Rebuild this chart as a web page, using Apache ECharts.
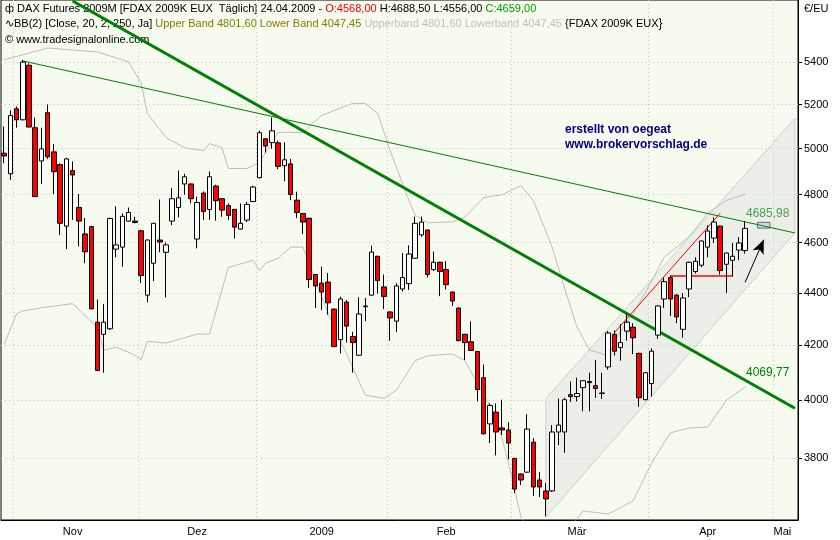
<!DOCTYPE html>
<html><head><meta charset="utf-8">
<script src="https://cdn.jsdelivr.net/npm/echarts@6/dist/echarts.min.js"></script>
<style>html,body{margin:0;padding:0;background:#fff}#c{width:840px;height:540px}</style>
</head><body><div id="c"></div>
<script>
// trading-day slots (Oct 30 2008 .. early May 2009)
var categories = [];
for (var i = 1; i <= 128; i++) categories.push(String(i));
// [open, close, low, high]
var candles = [
[4980,4968,4936,5100],[4890,5149,4864,5173],[5180,5130,5094,5191],[5130,5399,5127,5410],[5384,5097,5097,5394],
[5094,4792,4792,5140],[4946,4999,4846,5094],[5162,4964,4954,5200],[4986,4899,4803,5021],[4930,4680,4631,4936],
[4668,4955,4574,4960],[4904,4885,4694,4944],[4746,4689,4585,4803],[4636,4563,4517,4702],[4666,4338,4336,4670],
[4287,4107,4105,4374],[4241,4287,4099,4356],[4262,4700,4258,4704],[4574,4591,4541,4751],[4582,4709,4503,4721],
[4689,4725,4687,4746],[4689,4683,4680,4707],[4649,4468,4438,4653],[4391,4611,4363,4613],[4517,4680,4446,4682],
[4611,4603,4561,4780],[4561,4591,4382,4601],[4689,4783,4672,4829],[4746,4787,4705,4904],[4846,4877,4800,4890],
[4846,4783,4763,4848],[4615,4767,4577,4792],[4807,4729,4694,4814],[4738,4877,4694,4900],[4837,4775,4691,4843],
[4783,4735,4707,4785],[4754,4713,4694,4763],[4738,4664,4617,4740],[4656,4680,4654,4763],[4693,4759,4685,4769],
[4771,4833,4769,4838],[4873,5071,4870,5081],[5044,5012,4983,5046],[5027,5080,5000,5140],[5026,4922,4910,5036],
[4925,4951,4858,5029],[4933,4801,4777,4955],[4777,4725,4701,4813],[4721,4685,4636,4723],[4701,4452,4419,4703],
[4472,4427,4341,4474],[4438,4403,4333,4503],[4442,4361,4315,4478],[4337,4195,4193,4339],[4221,4376,4170,4385],
[4364,4272,4210,4372],[4233,4210,4099,4251],[4163,4318,4160,4383],[4346,4349,4291,4380],[4391,4562,4389,4588],
[4545,4448,4397,4547],[4423,4386,4337,4472],[4326,4303,4217,4328],[4291,4427,4249,4438],[4415,4460,4405,4558],
[4436,4554,4411,4589],[4537,4680,4535,4708],[4632,4685,4624,4708],[4652,4472,4460,4654],[4492,4521,4486,4564],
[4521,4484,4387,4523],[4492,4432,4413,4525],[4403,4368,4349,4405],[4341,4217,4215,4343],[4241,4210,4145,4243],
[4213,4181,4179,4290],[4177,4038,3996,4179],[4081,3883,3880,4129],[3917,3982,3851,3989],[3958,3889,3809,3989],
[3903,3896,3879,4002],[3896,3851,3796,3923],[3799,3697,3684,3801],[3747,3727,3710,3749],[3753,3899,3750,3951],
[3854,3704,3675,3868],[3727,3704,3671,3753],[3691,3665,3609,3717],[3691,3889,3688,3913],[3889,3913,3844,4006],
[3889,4002,3818,4009],[4020,4013,3994,4067],[4013,4024,3996,4081],[4045,4070,3961,4072],[4067,4063,3961,4099],
[4052,4042,4009,4145],[4024,4026,4005,4099],[4120,4246,4110,4253],[4241,4178,4162,4256],[4192,4210,4143,4280],
[4253,4287,4217,4318],[4268,4228,4167,4283],[4170,4009,3977,4172],[4002,4099,4000,4101],[4060,4178,4013,4188],
[4238,4349,4224,4351],[4376,4444,4341,4460],[4460,4376,4310,4468],[4391,4307,4283,4395],[4260,4380,4228,4399],
[4415,4521,4383,4523],[4484,4525,4476,4541],[4509,4607,4501,4609],[4582,4648,4541,4672],[4619,4685,4599,4705],
[4668,4488,4472,4670],[4513,4558,4399,4560],[4529,4545,4464,4599],[4570,4599,4529,4623],[4568,4659,4556,4688.5]
];
// Bollinger bands read at sample slots (0-based slot, value)
var upperBand = [[0,5410],[7,5467],[15,5448],[20,5400],[22,5300],[23,5159],[26,5050],[29,5004],[32,4991],[33,5023],[35,5004],[36,4913],[39,4913],[41,4939],[44,5073],[48,5073],[51,5150],[56,5205],[58,5205],[60,5159],[62,4991],[65,4776],[66,4714],[68,4682],[72,4686],[74,4706],[77,4788],[80,4800],[83,4839],[85,4776],[88,4584],[90,4419],[92,4269],[94,4183],[97,4161],[99,4253],[101,4318],[104,4446],[106,4541],[110,4624],[113,4722],[116,4776],[119,4802]];
var lowerBand = [[0,4204],[2,4319],[3,4330],[6,4342],[11,4358],[15,4266],[16,4182],[18,4193],[21,4164],[22,4146],[23,4215],[26,4208],[31,4242],[33,4242],[36,4500],[40,4529],[41,4488],[42,4517],[44,4537],[46,4582],[48,4582],[50,4448],[52,4323],[55,4168],[58,4018],[61,4007],[63,4036],[64,4071],[66,4143],[68,4161],[72,4168],[74,4143],[76,4061],[79,3944],[81,3784],[83,3607],[86,3520],[89,3530],[93,3626],[97,3616],[101,3658],[104,3784],[107,3886],[110,3903],[113,3906],[116,4000],[119,4047]];
var yTicks = [3800,4000,4200,4400,4600,4800,5000,5200,5400];
var monthStartIdx = [2,22,41,62,82,104,124];
var monthLabelIdx = [11,31,51,71,92,113,125];
var monthLabelText = ['Nov','Dez','2009','Feb','Mär','Apr','Mai'];
var thickTrend = [[11,5700],[127,3972]];
var thinTrend = [[3,5405],[127,4640]];
var channel = [[87,4006],[127,5136],[127,4641],[87,3606]];
var redDiag = [[98,4247],[115,4722]];
var redFlat = [[107,4469],[117,4469]];
var arrowPts = [[119,4441],[122,4612]];
var boxPts = [[121,4684],[123,4660]];
var trendLabels = ['4685,98','4069,77'];

var ch = echarts.init(document.getElementById('c'));
var F = 'Liberation Sans, Arial, sans-serif';
ch.setOption({
  animation:false,
  backgroundColor:'#ffffff',
  grid:{left:1,right:42,top:0,bottom:20,show:true,backgroundColor:'#f7faef',borderColor:'#000',borderWidth:1},
  xAxis:{type:'category',data:categories,boundaryGap:true,
    axisLine:{lineStyle:{color:'#000'}},
    axisTick:{customValues:monthStartIdx,length:4,lineStyle:{color:'#000'}},
    axisLabel:{customValues:monthLabelIdx,fontFamily:F,fontSize:11,color:'#000',margin:6,
      formatter:function(v,i){var k=monthLabelIdx.indexOf(Number(i));if(k<0)k=monthLabelIdx.indexOf(Number(v)-1);return k>=0?monthLabelText[k]:'';}},
    splitLine:{show:true,lineStyle:{color:'#c4c4c4',type:[1,3]}}
  },
  yAxis:{type:'log',position:'right',min:3597,max:5705,logBase:10,
    axisLine:{show:true,lineStyle:{color:'#000'}},
    axisTick:{show:true,customValues:yTicks,length:4,lineStyle:{color:'#000'}},
    axisLabel:{customValues:yTicks,fontFamily:F,fontSize:11,color:'#000',margin:6,
      formatter:function(v){return String(Math.round(v));}},
    splitLine:{show:true,lineStyle:{color:'#c4c4c4',type:[1,3]}},
    minorTick:{show:false}
  },
  series:[
    {type:'custom',clip:true,silent:true,data:[[0,4000]],z:1,
      renderItem:function(p,api){
        var pts=channel.map(function(c){return api.coord(c);});
        return {type:'polygon',shape:{points:pts},style:{fill:'rgba(215,218,218,0.35)',stroke:'#cfcfcf',lineWidth:1}};
      }},
    {type:'line',data:upperBand,connectNulls:true,symbol:'none',z:2,lineStyle:{color:'#bdbdbd',width:1}},
    {type:'line',data:lowerBand,connectNulls:true,symbol:'none',z:2,lineStyle:{color:'#bdbdbd',width:1}},
    {type:'candlestick',data:candles,barWidth:5,z:5,
      itemStyle:{color:'#ffffff',color0:'#ff0000',borderColor:'#000',borderColor0:'#000',borderWidth:1}},
    {type:'line',data:[],z:6,
      markLine:{silent:true,symbol:'none',animation:false,label:{show:false},
        data:[
          [{coord:thickTrend[0],lineStyle:{color:'#008000',width:3,type:'solid'}},{coord:thickTrend[1]}],
          [{coord:thinTrend[0],lineStyle:{color:'#008000',width:1,type:'solid'}},{coord:thinTrend[1]}],
          [{coord:redDiag[0],lineStyle:{color:'#ff0000',width:1,type:'solid'}},{coord:redDiag[1]}],
          [{coord:redFlat[0],lineStyle:{color:'#ff0000',width:1.5,type:'solid'}},{coord:redFlat[1]}],
          [{coord:arrowPts[0],symbol:'none',lineStyle:{color:'#000',width:1,type:'solid'}},{coord:arrowPts[1],symbol:'arrow',symbolSize:[9,14]}]
        ]},
      markArea:{silent:true,itemStyle:{color:'#c6dcee',borderColor:'#333',borderWidth:1},
        data:[[{coord:boxPts[0]},{coord:boxPts[1]}]]}
    }
  ],
  graphic:[
    {type:'text',left:5,top:3,style:{rich:{
      k:{fill:'#000',font:'11px '+F},r:{fill:'#ff0000',font:'11px '+F},g:{fill:'#00a000',font:'11px '+F}},
      text:'{k|ф DAX Futures 2009M [FDAX 2009K EUX  Täglich] 24.04.2009 - }{r|O:4568,00 }{k|H:4688,50 L:4556,00 }{g|C:4659,00}'}},
    {type:'text',left:5,top:18,style:{rich:{
      k:{fill:'#000',font:'11px '+F},o:{fill:'#808000',font:'11px '+F},l:{fill:'#c0c0c0',font:'11px '+F}},
      text:'{k|∿BB(2) [Close, 20, 2, 250, Ja] }{o|Upper Band 4801,60 Lower Band 4047,45 }{l|Upperband 4801,60 Lowerband 4047,45 }{k|{FDAX 2009K EUX}}'}},
    {type:'text',left:5,top:34,style:{text:'© www.tradesignalonline.com',fill:'#000',font:'11px '+F}},
    {type:'text',left:804,top:3,style:{text:'€/EU',fill:'#000',font:'11px '+F}},
    {type:'text',left:565,top:122,style:{text:'erstellt von oegeat\nwww.brokervorschlag.de',fill:'#000080',font:'bold 12px '+F,lineHeight:15}},
    {type:'text',left:746,top:208,style:{text:trendLabels[0],fill:'#008000',font:'12px '+F}},
    {type:'text',left:746,top:367,style:{text:trendLabels[1],fill:'#008000',font:'12px '+F}}
  ]
});
</script></body></html>
